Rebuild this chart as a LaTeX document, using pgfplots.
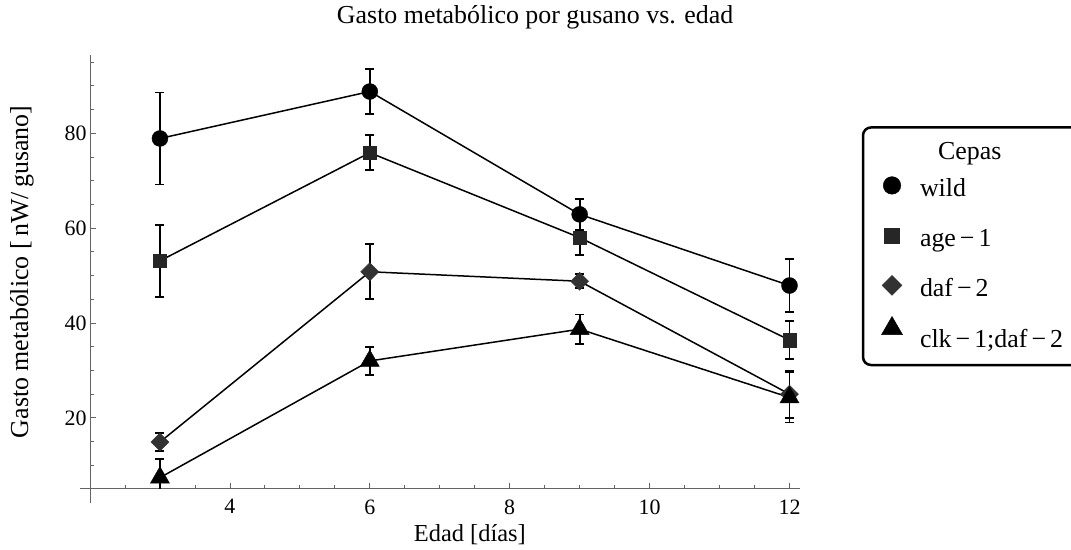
\documentclass[border=0pt]{standalone}
\usepackage{fontspec}
\setmainfont{Liberation Serif}
\usepackage{pgfplots}
\pgfplotsset{compat=1.18}
\definecolor{axgray}{RGB}{100,100,100}
\definecolor{sqc}{RGB}{38,38,38}
\definecolor{dic}{RGB}{50,50,50}
\newcommand{\mn}{\kern4bp−\kern4bp}
\pgfplotsset{
  ebar/.style={error bars/.cd, y dir=both, y explicit,
    error bar style={line width=1.8bp, black},
    error mark options={line width=1.8bp, black, mark size=4.5bp, rotate=90}},
}
\begin{document}
\begin{tikzpicture}
\begin{axis}[
  at={(90bp,61bp)}, anchor=south west,
  scale only axis, width=710bp, height=434bp,
  xmin=2, xmax=12.15, ymin=5, ymax=96.5,
  axis lines*=left,
  axis line style={axgray, line width=1bp},
  x axis line style={shorten <=-10bp},
  y axis line style={shorten <=-14bp},
  tick align=inside,
  tick style={axgray, line width=0.8bp},
  major tick length=6bp, minor tick length=3.5bp,
  xtick={4,6,8,10,12}, ytick={20,40,60,80},
  minor xtick={2.5,3,3.5,4.5,5,5.5,6.5,7,7.5,8.5,9,9.5,10.5,11,11.5},
  minor ytick={10,15,25,30,35,45,50,55,65,70,75,85,90,95},
  /pgf/number format/assume math mode=true,
  tick label style={font=\fontsize{22}{26}\selectfont, black},
  xticklabel style={yshift=-7bp},
  title={Gasto metabólico por gusano vs. edad},
  title style={at={(axis description cs:0.627,1)}, anchor=base, yshift=26bp, font=\fontsize{26}{30}\selectfont},
  xlabel={Edad [días]},
  xlabel style={at={(axis description cs:0.535,0)}, anchor=base, yshift=-52bp, font=\fontsize{24.5}{28}\selectfont},
  ylabel={Gasto metabólico [\,nW/\,gusano]},
  ylabel style={at={(axis description cs:-0.0873,0.5)}, anchor=base, font=\fontsize{26}{30}\selectfont},
  legend style={at={(axis description cs:1.087,0.836)}, anchor=north west, draw=black, line width=2.5bp,
    rounded corners=8bp, inner xsep=11bp, inner ysep=13bp, row sep=0bp, column sep=0bp,
    font=\fontsize{26}{30}\selectfont, nodes={inner sep=0pt, text height=30bp, text depth=20bp}},
  legend cell align=left,
  legend image code/.code={\draw[#1, line width=0.4bp, sharp corners, every mark/.append style={scale=1.1}] plot[only marks] coordinates {(0bp,6bp)}; \path[draw=none, fill=none] (-18bp,0bp) -- (28bp,0bp);},
]
\addlegendimage{empty legend}
\addlegendentry[text height=19bp, text depth=7bp]{\hspace*{18bp}Cepas}

\addplot[black, line width=1.5bp, mark=*, mark size=8bp, mark options={line width=0.4bp, draw=black, fill=black}, ebar]
 coordinates {(3,78.9) +- (0,9.7) (6,88.8) +- (0,4.8) (9,62.9) +- (0,3.3) (12,47.9) +- (0,5.6)};
\addlegendentry{wild}

\addplot[black, line width=1.5bp, mark=square*, mark size=6.7bp, mark options={line width=0.4bp, draw=sqc, fill=sqc}, ebar]
 coordinates {(3,53.1) +- (0,7.6) (6,75.9) +- (0,3.7) (9,58.0) +- (0,3.6) (12,36.4) +- (0,4.0)};
\addlegendentry{age\mn 1}

\addplot[black, line width=1.5bp, mark=square*, mark size=6.4bp, mark options={line width=0.4bp, draw=dic, fill=dic, rotate=45}, ebar]
 coordinates {(3,14.9) +- (0,1.9) (6,50.8) +- (0,5.8) (9,48.8) +- (0,1.5) (12,25.0) +- (0,5.0)};
\addlegendentry{daf\mn 2}

\addplot[black, line width=1.5bp, mark=triangle*, mark size=11bp, mark options={line width=0.4bp, draw=black, fill=black}, ebar]
 coordinates {(3,7.4) +- (0,4.0) (6,32.0) +- (0,3.0) (9,38.7) +- (0,3.1) (12,24.3) +- (0,5.3)};
\addlegendentry[text depth=5bp]{clk\mn 1;daf\mn 2\hspace*{12bp}}
\end{axis}
\pgfresetboundingbox
\path[use as bounding box] (0,0) rectangle (1071bp,550bp);
\end{tikzpicture}
\end{document}
